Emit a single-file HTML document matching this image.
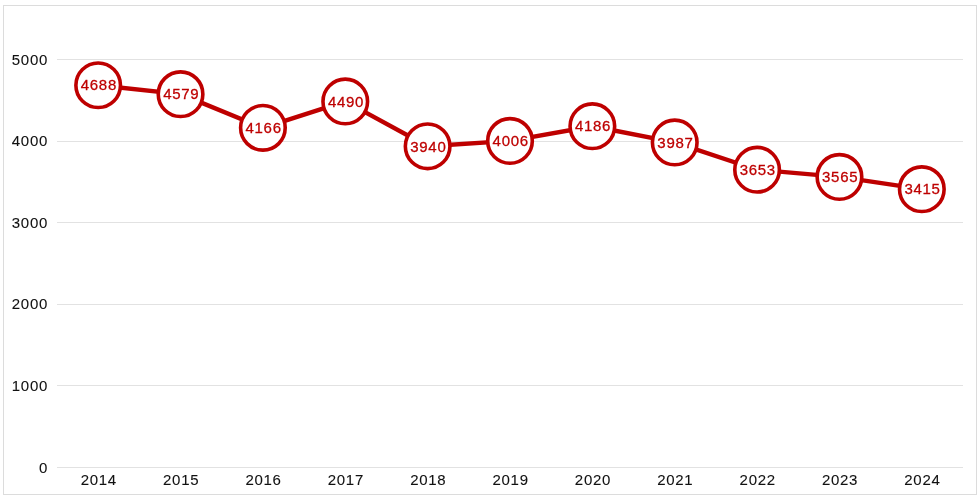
<!DOCTYPE html>
<html><head><meta charset="utf-8"><style>
html,body{margin:0;padding:0;background:#fff;}
body{width:980px;height:500px;overflow:hidden;position:relative;}
.frame{position:absolute;left:3px;top:5px;width:972px;height:488px;border:1px solid #dcdcdc;box-sizing:content-box;}
svg{position:absolute;left:0;top:0;will-change:transform;}
text{font-family:"Liberation Sans",sans-serif;font-size:15px;letter-spacing:0.7px;}
.ax{fill:#111;}
.dl{fill:#be0000;stroke:#be0000;stroke-width:0.28px;}
.ax{stroke:#111;stroke-width:0.1px;}
</style></head><body>
<div class="frame"></div>
<svg width="980" height="500" viewBox="0 0 980 500">
<line x1="57" y1="467.50" x2="963" y2="467.50" stroke="#e2e2e2" stroke-width="1"/>
<text x="48" y="472.60" text-anchor="end" class="ax">0</text>
<line x1="57" y1="385.50" x2="963" y2="385.50" stroke="#e2e2e2" stroke-width="1"/>
<text x="48" y="391.00" text-anchor="end" class="ax">1000</text>
<line x1="57" y1="304.50" x2="963" y2="304.50" stroke="#e2e2e2" stroke-width="1"/>
<text x="48" y="309.40" text-anchor="end" class="ax">2000</text>
<line x1="57" y1="222.50" x2="963" y2="222.50" stroke="#e2e2e2" stroke-width="1"/>
<text x="48" y="227.80" text-anchor="end" class="ax">3000</text>
<line x1="57" y1="141.50" x2="963" y2="141.50" stroke="#e2e2e2" stroke-width="1"/>
<text x="48" y="146.20" text-anchor="end" class="ax">4000</text>
<line x1="57" y1="59.50" x2="963" y2="59.50" stroke="#e2e2e2" stroke-width="1"/>
<text x="48" y="64.60" text-anchor="end" class="ax">5000</text>
<text x="98.78" y="485" text-anchor="middle" class="ax">2014</text>
<text x="181.15" y="485" text-anchor="middle" class="ax">2015</text>
<text x="263.51" y="485" text-anchor="middle" class="ax">2016</text>
<text x="345.87" y="485" text-anchor="middle" class="ax">2017</text>
<text x="428.24" y="485" text-anchor="middle" class="ax">2018</text>
<text x="510.60" y="485" text-anchor="middle" class="ax">2019</text>
<text x="592.96" y="485" text-anchor="middle" class="ax">2020</text>
<text x="675.33" y="485" text-anchor="middle" class="ax">2021</text>
<text x="757.69" y="485" text-anchor="middle" class="ax">2022</text>
<text x="840.05" y="485" text-anchor="middle" class="ax">2023</text>
<text x="922.42" y="485" text-anchor="middle" class="ax">2024</text>
<polyline points="98.18,85.26 180.55,94.15 262.91,127.85 345.27,101.42 427.64,146.30 510.00,140.91 592.36,126.22 674.73,142.46 757.09,169.72 839.45,176.90 921.82,189.14" fill="none" stroke="#be0000" stroke-width="4.4" stroke-linejoin="round"/>
<circle cx="98.18" cy="85.26" r="22.3" fill="#fff" stroke="#be0000" stroke-width="3.6"/>
<text x="98.88" y="90.46" text-anchor="middle" class="dl">4688</text>
<circle cx="180.55" cy="94.15" r="22.3" fill="#fff" stroke="#be0000" stroke-width="3.6"/>
<text x="181.25" y="99.35" text-anchor="middle" class="dl">4579</text>
<circle cx="262.91" cy="127.85" r="22.3" fill="#fff" stroke="#be0000" stroke-width="3.6"/>
<text x="263.61" y="133.05" text-anchor="middle" class="dl">4166</text>
<circle cx="345.27" cy="101.42" r="22.3" fill="#fff" stroke="#be0000" stroke-width="3.6"/>
<text x="345.97" y="106.62" text-anchor="middle" class="dl">4490</text>
<circle cx="427.64" cy="146.30" r="22.3" fill="#fff" stroke="#be0000" stroke-width="3.6"/>
<text x="428.34" y="151.50" text-anchor="middle" class="dl">3940</text>
<circle cx="510.00" cy="140.91" r="22.3" fill="#fff" stroke="#be0000" stroke-width="3.6"/>
<text x="510.70" y="146.11" text-anchor="middle" class="dl">4006</text>
<circle cx="592.36" cy="126.22" r="22.3" fill="#fff" stroke="#be0000" stroke-width="3.6"/>
<text x="593.06" y="131.42" text-anchor="middle" class="dl">4186</text>
<circle cx="674.73" cy="142.46" r="22.3" fill="#fff" stroke="#be0000" stroke-width="3.6"/>
<text x="675.43" y="147.66" text-anchor="middle" class="dl">3987</text>
<circle cx="757.09" cy="169.72" r="22.3" fill="#fff" stroke="#be0000" stroke-width="3.6"/>
<text x="757.79" y="174.92" text-anchor="middle" class="dl">3653</text>
<circle cx="839.45" cy="176.90" r="22.3" fill="#fff" stroke="#be0000" stroke-width="3.6"/>
<text x="840.15" y="182.10" text-anchor="middle" class="dl">3565</text>
<circle cx="921.82" cy="189.14" r="22.3" fill="#fff" stroke="#be0000" stroke-width="3.6"/>
<text x="922.52" y="194.34" text-anchor="middle" class="dl">3415</text>
</svg>
</body></html>
